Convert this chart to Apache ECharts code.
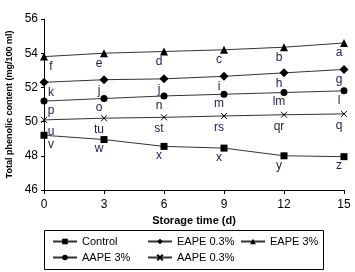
<!DOCTYPE html>
<html>
<head>
<meta charset="utf-8">
<script src="https://cdn.jsdelivr.net/npm/echarts@6/dist/echarts.min.js"></script>
<style>
  html, body { margin: 0; padding: 0; background: #fff; }
  #chart { width: 355px; height: 272px; }
</style>
</head>
<body>
<div id="chart"></div>
<script>
// storage days
const days = [0, 3, 6, 9, 12, 15];

// series values (mg/100 ml)
const control = [49.2, 48.95, 48.55, 48.45, 48.0, 47.95];
const eape03 = [52.3, 52.45, 52.5, 52.65, 52.85, 53.05];
const eape3 = [53.8, 54.0, 54.1, 54.2, 54.35, 54.6];
const aape3 = [51.2, 51.35, 51.5, 51.6, 51.7, 51.8];
const aape03 = [50.1, 50.2, 50.25, 50.33, 50.4, 50.45];

// significance letters
const controlTags = ["v", "w", "x", "x", "y", "z"];
const eape03Tags = ["k", "j", "j", "i", "h", "g"];
const eape3Tags = ["f", "e", "d", "c", "b", "a"];
const aape3Tags = ["p", "o", "n", "m", "lm", "l"];
const aape03Tags = ["u", "tu", "st", "rs", "qr", "q"];

const seriesNames = ["Control", "EAPE 0.3%", "EAPE 3%", "AAPE 3%", "AAPE 0.3%"];

const FONT = '"Liberation Sans", Arial, sans-serif';

const chart = echarts.init(document.getElementById("chart"), null, { renderer: "canvas" });

// 折线 + 字母标注
function makeSeries(name, values, tags, symbol, size, cross) {
  return {
    name: name,
    type: "line",
    data: days.map((d, i) => ({
      value: [d, values[i]],
      label: { offset: i === 0 ? [7, 0] : [-5, 0] },
    })),
    symbol: symbol,
    symbolSize: size,
    lineStyle: { color: "#333", width: 1 },
    itemStyle: cross
      ? { color: "none", borderColor: "#000", borderWidth: 1 }
      : { color: "#000", borderWidth: 0 },
    label: {
      show: true,
      position: "bottom",
      distance: 0,
      color: "#1c1c48",
      fontSize: 12,
      fontFamily: FONT,
      formatter: (p) => tags[p.dataIndex],
    },
    emphasis: { disabled: true },
    animation: false,
  };
}

// 图例位置
const legendSpots = [
  { left: 52, top: 236 },
  { left: 147, top: 236 },
  { left: 240, top: 236 },
  { left: 52, top: 252 },
  { left: 147, top: 252 },
];

const option = {
  grid: { left: 44, right: 11, top: 19, bottom: 82, outerBoundsMode: "none", containLabel: false },
  xAxis: {
    type: "value",
    min: 0,
    max: 15,
    interval: 3,
    name: "Storage time (d)",
    nameLocation: "middle",
    nameGap: 16,
    nameTextStyle: { fontSize: 11, fontWeight: "bold", fontFamily: FONT, color: "#000" },
    axisLine: { lineStyle: { color: "#000", width: 1 } },
    axisTick: { length: 4, lineStyle: { color: "#000" } },
    axisLabel: { margin: 9, fontSize: 12, fontFamily: FONT, color: "#000" },
    splitLine: { show: false },
  },
  yAxis: {
    type: "value",
    min: 46,
    max: 56,
    interval: 2,
    name: "Total phenolic content (mg/100 ml)",
    nameLocation: "middle",
    nameGap: 27,
    nameTextStyle: { fontSize: 9, fontWeight: "bold", fontFamily: FONT, color: "#000" },
    axisLine: { show: true, lineStyle: { color: "#000", width: 1 } },
    axisTick: { show: true, length: 3, lineStyle: { color: "#000" } },
    axisLabel: { margin: 6, fontSize: 12, fontFamily: FONT, color: "#000" },
    splitLine: { show: false },
  },
  legend: seriesNames.map((n, i) => ({
    data: [n],
    left: legendSpots[i].left,
    top: legendSpots[i].top,
    padding: 0,
    itemWidth: 24,
    itemHeight: 7,
    itemGap: 0,
    selectedMode: false,
    textStyle: { fontSize: 11, fontFamily: FONT, color: "#000" },
  })),
  graphic: [
    {
      type: "rect",
      shape: { x: 44.5, y: 230.5, width: 279, height: 39 },
      style: { fill: "none", stroke: "#000", lineWidth: 1 },
    },
  ],
  series: [
    makeSeries(seriesNames[0], control, controlTags, "rect", 7, false),
    makeSeries(seriesNames[1], eape03, eape03Tags, "path://M5,0L10,5L5,10L0,5Z", 9, false),
    makeSeries(seriesNames[2], eape3, eape3Tags, "triangle", 8, false),
    makeSeries(seriesNames[3], aape3, aape3Tags, "circle", 7, false),
    makeSeries(seriesNames[4], aape03, aape03Tags, "path://M0,0L10,10M10,0L0,10", 6, true),
  ],
};

chart.setOption(option);
</script>
</body>
</html>
